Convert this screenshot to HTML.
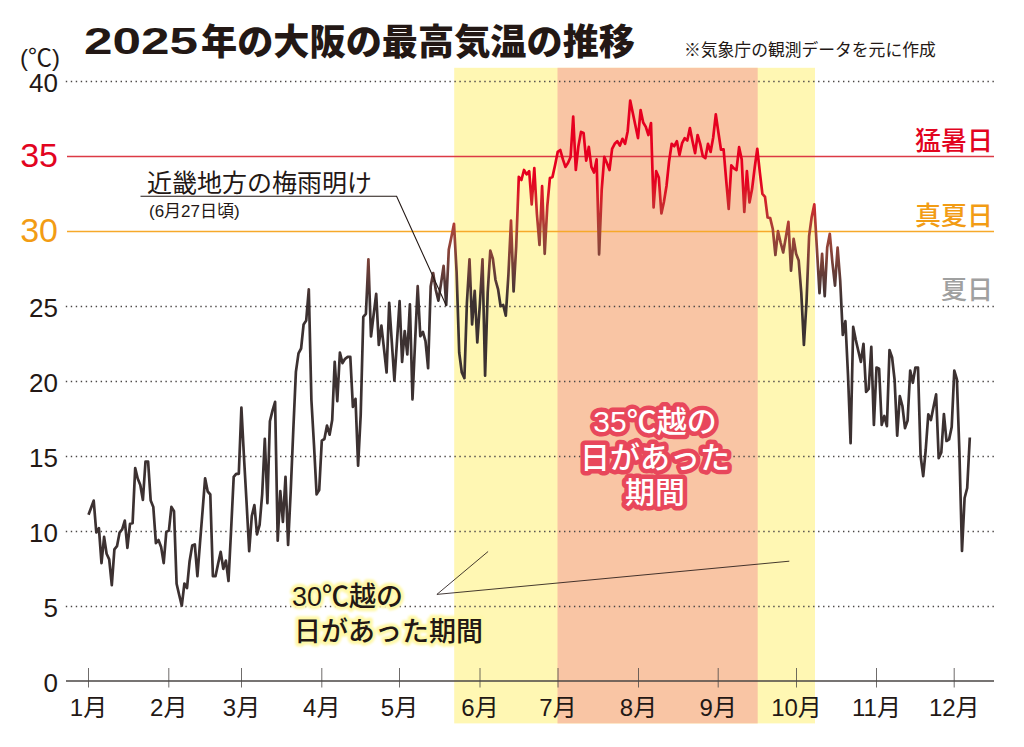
<!DOCTYPE html>
<html lang="ja"><head><meta charset="utf-8"><title>2025年の大阪の最高気温の推移</title>
<style>html,body{margin:0;padding:0;background:#fff;font-family:"Liberation Sans",sans-serif}svg{display:block}</style>
</head><body>
<svg width="1024" height="747" viewBox="0 0 1024 747" role="img" aria-label="2025年の大阪の最高気温の推移">
<defs>
<linearGradient id="lg" gradientUnits="userSpaceOnUse" x1="0" y1="180" x2="0" y2="300">
<stop offset="0" stop-color="#e60020"/><stop offset="0.125" stop-color="#d91c28"/><stop offset="0.25" stop-color="#c42d30"/><stop offset="0.43" stop-color="#a34438"/><stop offset="0.66" stop-color="#7d4138"/><stop offset="0.83" stop-color="#5b3a37"/><stop offset="1" stop-color="#3c3131"/>
</linearGradient>
<filter id="glow" x="-10%" y="-30%" width="120%" height="160%"><feGaussianBlur stdDeviation="1.1"/></filter>
</defs>
<rect width="1024" height="747" fill="#fff"/>
<rect x="454.2" y="67.8" width="360.8" height="655.6" fill="#fff7b3"/>
<rect x="557.5" y="67.8" width="200.2" height="655.6" fill="#f9c5a4"/>
<line x1="65.8" y1="81.5" x2="994" y2="81.5" stroke="#4a4645" stroke-width="1.4" stroke-dasharray="1.4 3.582"/>
<line x1="65.8" y1="306.5" x2="994" y2="306.5" stroke="#4a4645" stroke-width="1.4" stroke-dasharray="1.4 3.582"/>
<line x1="65.8" y1="381.5" x2="994" y2="381.5" stroke="#4a4645" stroke-width="1.4" stroke-dasharray="1.4 3.582"/>
<line x1="65.8" y1="456.5" x2="994" y2="456.5" stroke="#4a4645" stroke-width="1.4" stroke-dasharray="1.4 3.582"/>
<line x1="65.8" y1="531.5" x2="994" y2="531.5" stroke="#4a4645" stroke-width="1.4" stroke-dasharray="1.4 3.582"/>
<line x1="65.8" y1="606.5" x2="994" y2="606.5" stroke="#4a4645" stroke-width="1.4" stroke-dasharray="1.4 3.582"/>
<line x1="67" y1="156.5" x2="994" y2="156.5" stroke="#dc3a45" stroke-width="1.3"/>
<line x1="67" y1="231.5" x2="994" y2="231.5" stroke="#f6a92a" stroke-width="1.4"/>
<line x1="66" y1="681" x2="994" y2="681" stroke="#4a4645" stroke-width="1.3"/>
<path d="M88.5 668V687.5M168.8 668V687.5M241.5 668V687.5M321.8 668V687.5M399.5 668V687.5M480 668V687.5M558 668V687.5M638.5 668V687.5M718.2 668V687.5M796.5 668V687.5M876.5 668V687.5M954.2 668V687.5" stroke="#4a4645" stroke-width="0.8" fill="none"/>
<polyline fill="none" stroke="url(#lg)" stroke-width="2.7" stroke-linejoin="round" points="88.5,514.8 91.1,507.8 93.7,500.6 96.3,532.5 98.9,528.1 101.5,563.1 104.1,536.9 106.6,553.8 109.2,559.4 111.8,585.2 114.4,549.4 117,546.2 119.6,532.5 122.2,529.4 124.8,520.6 127.4,547.8 130,523.8 132.6,523.1 135.2,468.1 137.7,478.5 140.3,485 142.9,500 145.5,461.5 148.1,461.5 150.7,500.6 153.3,506.9 155.9,543.1 158.5,540 161.1,546.9 163.7,563.1 166.3,531.9 168.9,530.6 171.4,506.9 174,511.2 176.6,583.8 179.2,595 181.8,605.6 184.4,583.5 187,588.1 189.6,561.2 192.2,545.6 194.8,544.4 197.4,576.2 200,543 202.6,510.5 205.1,478.3 207.7,491.5 210.3,494.5 212.9,576.2 215.5,576.2 218.1,563.8 220.7,551.9 223.3,568.8 225.9,560.6 228.5,581 231.1,530 233.7,476.9 236.2,473.8 238.8,473.8 241.4,407.5 244,457.5 246.6,503 249.2,551.2 251.8,516 254.4,505 257,534.4 259.6,525 262.2,494 264.8,438.8 267.4,503.1 269.9,421.2 272.5,410.6 275.1,401.9 277.7,540.6 280.3,491.2 282.9,521.9 285.5,476.9 288.1,545 290.7,491.5 293.3,430 295.9,371.9 298.5,353.4 301.1,348.5 303.6,324.4 306.2,320.6 308.8,289.4 311.4,400 314,445 316.6,494.4 319.2,490 321.8,440.6 324.4,439 327,425.6 329.6,434.7 332.2,420 334.7,361.9 337.3,401.2 339.9,352.5 342.5,363.1 345.1,358.8 347.7,356.9 350.3,356.9 352.9,406.9 355.5,398.8 358.1,465.6 360.7,415 363.3,316.9 365.9,313.8 368.4,259.4 371,336.5 373.6,315 376.2,293.8 378.8,345 381.4,325.6 384,348.8 386.6,372.5 389.2,302.8 391.8,341.9 394.4,380.6 397,341.2 399.6,301.2 402.1,361.9 404.7,331.2 407.3,354.4 409.9,304.4 412.5,399.4 415.1,341.6 417.7,286.2 420.3,336.2 422.9,331.9 425.5,341.2 428.1,368.1 430.7,286.2 433.2,273.1 435.8,290 438.4,300.6 441,283.8 443.6,265.9 446.2,305 448.8,249.4 451.4,236.9 454,223.8 456.6,271.9 459.2,352.5 461.8,372.5 464.4,378.1 466.9,303 469.5,259.4 472.1,324.4 474.7,290.9 477.3,342.5 479.9,303.5 482.5,259.4 485.1,375.6 487.7,292.5 490.3,250.6 492.9,258.8 495.5,280 498.1,289.4 500.6,306.2 503.2,305 505.8,315.6 508.4,275 511,220.6 513.6,291.5 516.2,246.4 518.8,176.9 521.4,180 524,170 526.6,174.4 529.2,171.2 531.7,204.4 534.3,168.1 536.9,214 539.5,245 542.1,186.2 544.7,253.8 547.3,206.2 549.9,178.1 552.5,176.9 555.1,165 557.7,151.9 560.3,150 562.9,159.4 565.4,166.9 568,163.1 570.6,156.9 573.2,116.5 575.8,170 578.4,146.2 581,131.9 583.6,133.1 586.2,160.6 588.8,146.9 591.4,166.9 594,172.5 596.6,159.4 599.1,254.4 601.7,190 604.3,156.9 606.9,163.1 609.5,170 612.1,148.8 614.7,143.8 617.3,141.2 619.9,145.6 622.5,138.8 625.1,143.8 627.7,131.2 630.2,100.6 632.8,113 635.4,125.6 638,138.1 640.6,110 643.2,122.5 645.8,126.9 648.4,135 651,123.1 653.6,207.5 656.2,171.2 658.8,177.5 661.4,213.5 663.9,202 666.5,186 669.1,161.2 671.7,143.8 674.3,146.2 676.9,141.2 679.5,155 682.1,143.1 684.7,138.1 687.3,140.6 689.9,128.1 692.5,141.2 695.1,153.1 697.6,135 700.2,143.8 702.8,156.2 705.4,158.1 708,143.8 710.6,151.9 713.2,137.5 715.8,114.4 718.4,132.5 721,149.7 723.6,149.4 726.2,180.4 728.7,208.8 731.3,165.3 733.9,168.4 736.5,170 739.1,147.2 741.7,159.4 744.3,211.9 746.9,171.2 749.5,202.5 752.1,188.8 754.7,167.5 757.3,148.8 759.9,172.9 762.4,193.8 765,196.9 767.6,217.5 770.2,218.1 772.8,229 775.4,255 778,231.2 780.6,242.5 783.2,252.5 785.8,237.5 788.4,221.9 791,270.6 793.6,238.8 796.1,253.8 798.7,260.6 801.3,293.2 803.9,345 806.5,302.5 809.1,236.2 811.7,216.9 814.3,204.4 816.9,248.4 819.5,293.1 822.1,253.8 824.7,296.2 827.2,247.5 829.8,233.8 832.4,262.5 835,285.6 837.6,247.5 840.2,280.6 842.8,335 845.4,321.2 848,375 850.6,443.1 853.2,326.9 855.8,340 858.4,351.2 860.9,361.9 863.5,343.8 866.1,391.9 868.7,388.8 871.3,346.9 873.9,425 876.5,367.5 879.1,368.8 881.7,425 884.3,416 886.9,426.2 889.5,350 892.1,357.5 894.6,380 897.2,435.6 899.8,396.2 902.4,406 905,428.1 907.6,420.6 910.2,370.6 912.8,382.8 915.4,367.5 918,367.5 920.6,456 923.2,476.2 925.7,450 928.3,414.4 930.9,420 933.5,407 936.1,394.4 938.7,458.1 941.3,452.5 943.9,414 946.5,441 949.1,439.4 951.7,427 954.3,370.6 956.9,379.4 959.4,452 962,551 964.6,498 967.2,488 969.8,437.5"/>
<path d="M140.5 196.3H396.6L446.2 305.6" fill="none" stroke="#231815" stroke-width="1.1"/>
<path d="M488.1 551.5L436.9 594.4L789.3 561.2" fill="none" stroke="#231815" stroke-width="0.85"/>
<g font-family="'Liberation Sans', 'Noto Sans CJK JP', sans-serif" fill="#231815" stroke="none" font-size="16">
<text x="84" y="54" font-size="36" font-weight="bold" text-anchor="start" textLength="114" lengthAdjust="spacingAndGlyphs">2025</text>
<text x="201" y="55" font-size="36" font-weight="900" text-anchor="start" textLength="434" lengthAdjust="spacingAndGlyphs">年の大阪の最高気温の推移</text>
<text x="684" y="56" font-size="16.8" text-anchor="start">※気象庁の観測データを元に作成</text>
<text x="20" y="66" font-size="24" text-anchor="start">(℃)</text>
<text x="58" y="92.0" font-size="26" text-anchor="end">40</text>
<text x="58" y="167.0" font-size="34" fill="#e2041f" text-anchor="end">35</text>
<text x="58" y="242.0" font-size="34" fill="#f29c14" text-anchor="end">30</text>
<text x="58" y="317.0" font-size="26" text-anchor="end">25</text>
<text x="58" y="392.0" font-size="26" text-anchor="end">20</text>
<text x="58" y="467.0" font-size="26" text-anchor="end">15</text>
<text x="58" y="542.0" font-size="26" text-anchor="end">10</text>
<text x="58" y="617.0" font-size="26" text-anchor="end">5</text>
<text x="58" y="692.0" font-size="26" text-anchor="end">0</text>
<text x="993" y="150" font-size="26" font-weight="500" fill="#e2041f" text-anchor="end">猛暑日</text>
<text x="993" y="225" font-size="26" font-weight="500" fill="#f29c14" text-anchor="end">真夏日</text>
<text x="993" y="299" font-size="26" font-weight="500" fill="#9fa0a0" text-anchor="end">夏日</text>
<text x="147" y="192" font-size="25" text-anchor="start">近畿地方の梅雨明け</text>
<text x="149" y="217" font-size="17" text-anchor="start">(6月27日頃)</text>
<g fill="#fff8a8" stroke="#fff8a8" stroke-width="6.5" stroke-linejoin="round" filter="url(#glow)" font-weight="500">
<text x="292" y="606" font-size="27" text-anchor="start">30℃越の</text>
<text x="294" y="641" font-size="27" text-anchor="start">日があった期間</text>
</g>
<g font-weight="500">
<text x="292" y="606" font-size="27" text-anchor="start">30℃越の</text>
<text x="294" y="641" font-size="27" text-anchor="start">日があった期間</text>
</g>
<g fill="#e8475b" stroke="#e8475b" stroke-width="9" stroke-linejoin="round" font-weight="500">
<text x="655" y="432" font-size="30" text-anchor="middle">35℃越の</text>
<text x="655" y="468" font-size="30" text-anchor="middle">日があった</text>
<text x="655" y="503" font-size="30" text-anchor="middle">期間</text>
</g>
<g fill="#fff" font-weight="500">
<text x="655" y="432" font-size="30" text-anchor="middle">35℃越の</text>
<text x="655" y="468" font-size="30" text-anchor="middle">日があった</text>
<text x="655" y="503" font-size="30" text-anchor="middle">期間</text>
</g>
<text x="88.5" y="716" font-size="24" text-anchor="middle">1月</text>
<text x="168.75" y="716" font-size="24" text-anchor="middle">2月</text>
<text x="241.5" y="716" font-size="24" text-anchor="middle">3月</text>
<text x="321.75" y="716" font-size="24" text-anchor="middle">4月</text>
<text x="399.5" y="716" font-size="24" text-anchor="middle">5月</text>
<text x="480" y="716" font-size="24" text-anchor="middle">6月</text>
<text x="558" y="716" font-size="24" text-anchor="middle">7月</text>
<text x="638.5" y="716" font-size="24" text-anchor="middle">8月</text>
<text x="718.25" y="716" font-size="24" text-anchor="middle">9月</text>
<text x="796.5" y="716" font-size="24" text-anchor="middle">10月</text>
<text x="876.5" y="716" font-size="24" text-anchor="middle">11月</text>
<text x="954.25" y="716" font-size="24" text-anchor="middle">12月</text>
</g>
</svg>
</body></html>
